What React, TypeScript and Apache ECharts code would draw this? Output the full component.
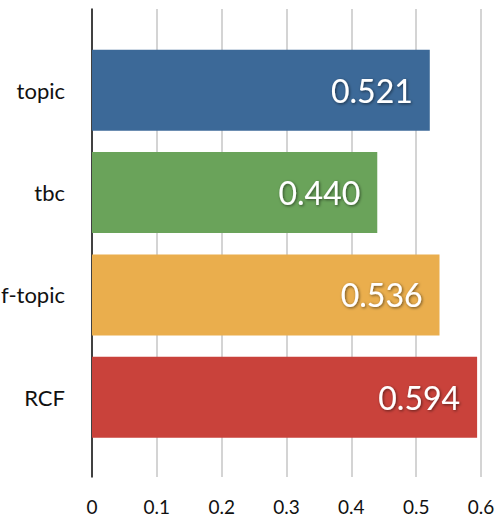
import React, { useEffect, useRef } from "react";
import * as echarts from "echarts";

const categories = ["topic", "tbc", "f-topic", "RCF"];
const values = [0.521, 0.44, 0.536, 0.594];
const barColors = ["#3c6998", "#6aa35a", "#eaae4d", "#c9423b"];
const tickMin = 0;
const tickMax = 0.6;
const tickStep = 0.1;

const FONT = "Lato, 'Open Sans', sans-serif";

export default function App() {
  const ref = useRef<HTMLDivElement>(null);
  useEffect(() => {
    if (!ref.current) return;
    const chart = echarts.init(ref.current, undefined, { renderer: "svg" });
    chart.setOption({
      animation: false,
      backgroundColor: "#ffffff",
      grid: [
        { left: 92, right: 21, top: 9, bottom: 41, containLabel: false, outerBoundsMode: "none" },
        { left: 92, right: 21, top: 39, bottom: 69.5, containLabel: false, outerBoundsMode: "none" },
      ],
      xAxis: [
        {
          gridIndex: 0,
          type: "value",
          min: tickMin,
          max: tickMax,
          interval: tickStep,
          axisLine: { show: false },
          axisTick: { show: false },
          splitLine: { show: true, lineStyle: { color: "#c6c6c6", width: 1.5 } },
          axisLabel: {
            color: "#111",
            fontSize: 19,
            lineHeight: 20,
            fontFamily: FONT,
            margin: 19,
            formatter: (v: number) => (v === 0 ? "0" : String(Math.round(v * 10) / 10)),
          },
        },
        {
          gridIndex: 1,
          type: "value",
          min: tickMin,
          max: tickMax,
          interval: tickStep,
          show: false,
        },
      ],
      yAxis: [
        {
          gridIndex: 0,
          type: "value",
          min: 0,
          max: 1,
          axisLine: { show: true, onZero: false, lineStyle: { color: "#111", width: 1.5 } },
          axisTick: { show: false },
          axisLabel: { show: false },
          splitLine: { show: false },
        },
        {
          gridIndex: 1,
          type: "category",
          inverse: true,
          data: categories,
          axisLine: { show: false },
          axisTick: { show: false },
          axisLabel: {
            color: "#111",
            fontSize: 22,
            fontFamily: FONT,
            margin: 27,
          },
        },
      ],
      series: [
        {
          type: "bar",
          xAxisIndex: 1,
          yAxisIndex: 1,
          barCategoryGap: "21%",
          data: values.map((v, i) => ({ value: v, itemStyle: { color: barColors[i] } })),
          label: {
            show: true,
            position: "insideRight",
            distance: 17,
            color: "#ffffff",
            fontSize: 32,
            fontFamily: FONT,
            textShadowColor: "rgba(0,0,0,0.55)",
            textShadowBlur: 3,
            textShadowOffsetX: 1,
            textShadowOffsetY: 1,
            formatter: (p: any) => Number(p.value).toFixed(3),
          },
        },
      ],
    });
    return () => chart.dispose();
  }, []);
  return <div ref={ref} style={{ width: 502, height: 518, position: "absolute", left: 0, top: 0 }} />;
}
